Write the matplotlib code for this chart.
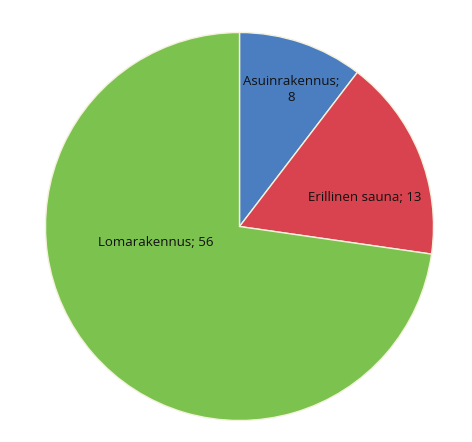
import matplotlib
matplotlib.use("Agg")
import matplotlib.pyplot as plt

categories = ["Asuinrakennus", "Erillinen sauna", "Lomarakennus"]
values = [8, 13, 56]
colors = ["#4a7ec0", "#d9434f", "#7cc24f"]

W, H = 472, 442
fig = plt.figure(figsize=(W / 100, H / 100), dpi=100)
cx, cy, r = 239.5, 226.5, 194
ax = fig.add_axes([(cx - r) / W, (H - cy - r) / H, 2 * r / W, 2 * r / H])
ax.pie(values, colors=colors, startangle=90, counterclock=False, radius=1,
       wedgeprops=dict(edgecolor="#f4f1dc", linewidth=1.0))
ax.set_xlim(-1, 1)
ax.set_ylim(-1, 1)
ax.set_aspect("auto")
ax.axis("off")

label_pos = [(0.265, 0.704), (0.644, 0.147), (-0.433, -0.085)]
label_txt = [f"{categories[0]};\n{values[0]}",
             f"{categories[1]}; {values[1]}",
             f"{categories[2]}; {values[2]}"]
for (x, y), t in zip(label_pos, label_txt):
    ax.text(x, y, t, ha="center", va="center", fontsize=9.5,
            family="Open Sans", color="#111111", linespacing=1.3)

fig.savefig("out.png", dpi=100)
